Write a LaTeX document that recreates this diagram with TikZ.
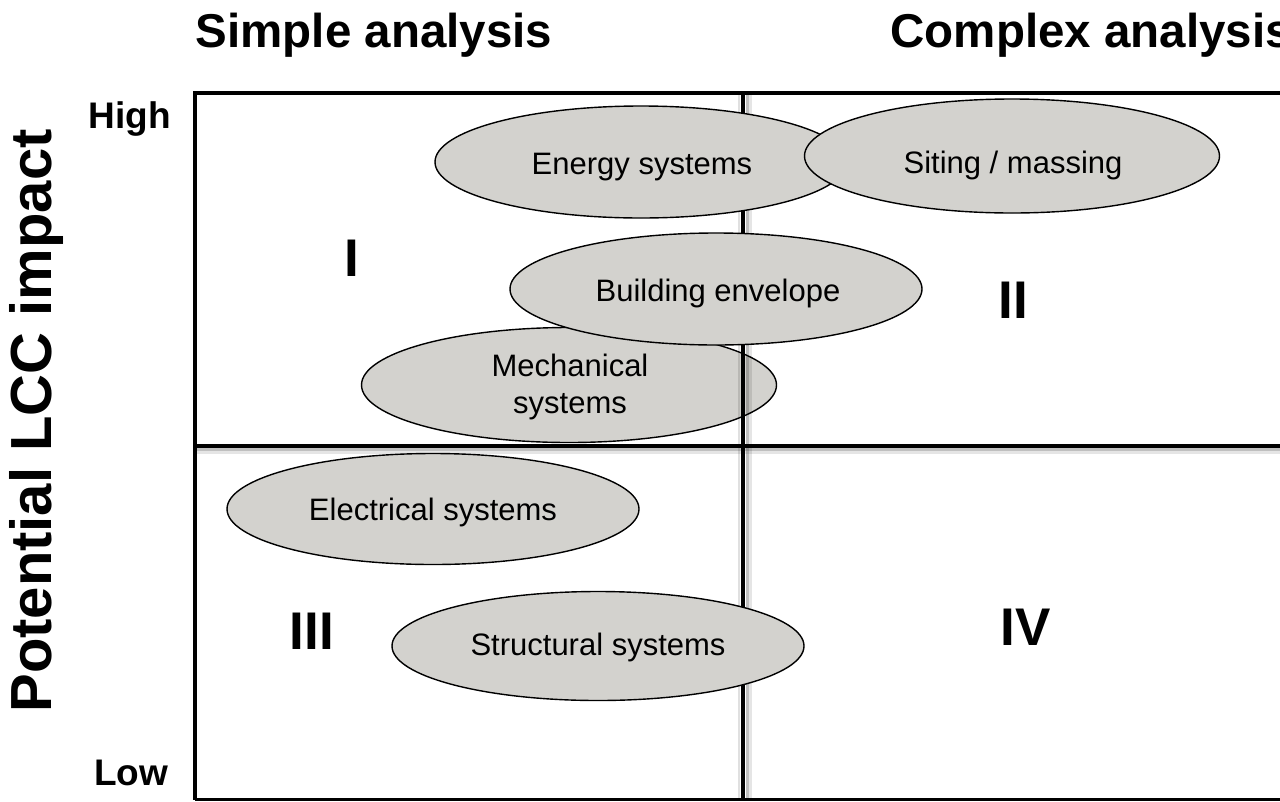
\documentclass[tikz,border=0pt]{standalone}
\usepackage{fontspec}
\setmainfont{Liberation Sans}
\usetikzlibrary{shapes.geometric}
\definecolor{blobfill}{RGB}{211,210,206}
\tikzset{
  blob/.style={ellipse, draw=black, line width=1.4pt, fill=blobfill, inner sep=0pt,
    minimum width=412pt, minimum height=112pt},
  blobtext/.style={font=\fontsize{31}{37}\selectfont, align=center},
  heading/.style={font=\bfseries\fontsize{47.5}{56}\selectfont},
  level/.style={font=\bfseries\fontsize{37}{44}\selectfont},
  quad/.style={font=\bfseries\fontsize{53}{60}\selectfont},
  divider/.style={line width=4.5pt, line cap=butt},
  shade1/.style={line width=2.5pt, black, opacity=0.25},
  shade2/.style={line width=3pt, black, opacity=0.10},
}
\begin{document}
\begin{tikzpicture}[x=1pt, y=-1pt]
  \useasboundingbox (0,0) rectangle (1280,801);
  \clip (0,0) rectangle (1280,801);
  \fill[white] (0,0) rectangle (1280,801);

  % horizontal divider with its soft shadow
  \draw[shade2] (195,452.5) -- (1290,452.5);
  \draw[shade1] (195,449.5) -- (1290,449.5);
  \draw[divider] (195,446) -- (1290,446);

  % mechanical systems sits beneath the vertical divider
  \node[blob, minimum width=415pt, minimum height=115pt] (mech) at (569,385) {};

  % vertical divider with its soft shadow
  \draw[shade2] (750,93) -- (750,801);
  \draw[shade1] (747.5,93) -- (747.5,801);
  \draw[shade1, opacity=0.12] (739,93) -- (739,801);
  \draw[divider] (743,93) -- (743,801);

  % outer frame
  \draw[line width=4pt] (1290,93) -- (195,93) -- (195,800);
  \draw[line width=2.5pt] (195,799.5) -- (1290,799.5);

  % remaining ellipses
  \node[blob] (env) at (716,289) {};
  \node[blob] (energy) at (641,162) {};
  \node[blob, minimum width=415pt, minimum height=114pt] (site) at (1012,156) {};
  \node[blob, minimum height=109pt] (struct) at (598,646) {};
  \node[blob, minimum height=111pt] (elec) at (433,509) {};

  % ellipse labels
  \node[blobtext] (energyT) at (642,167) {Energy systems};
  \node[blobtext] (siteT) at (1013,165) {Siting / massing};
  \node[blobtext] (envT) at (718,293) {Building envelope};
  \node[blobtext] (mechT) at (570,387) {Mechanical\\systems};
  \node[blobtext] (elecT) at (433,512) {Electrical systems};
  \node[blobtext] (structT) at (598,647) {Structural systems};

  % headings and axis labels
  \node[heading, anchor=base] (simple) at (374,47) {Simple analysis};
  \node[heading, anchor=base west] (complex) at (887,47) {Complex analysis};
  \node[level, anchor=base] (high) at (130,128) {High};
  \node[level, anchor=base] (low) at (131,785) {Low};
  \node[heading, font=\bfseries\fontsize{58}{66}\selectfont, rotate=90] (axis) at (37,421) {Potential LCC impact};

  % quadrant numerals
  \node[quad] (q1) at (352,258) {I};
  \node[quad] (q2) at (1013,300) {II};
  \node[quad] (q3) at (312,631) {III};
  \node[quad] (q4) at (1026,627) {IV};
\end{tikzpicture}
\end{document}
